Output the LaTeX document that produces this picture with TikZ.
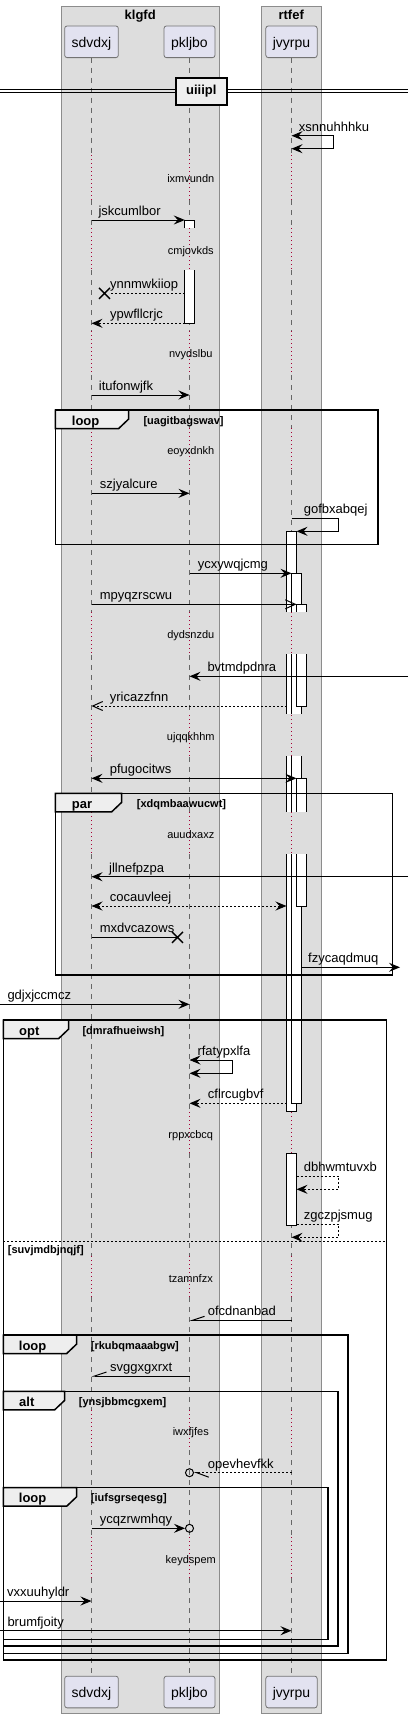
\documentclass[tikz,border=0pt]{standalone}
\usepackage{fontspec}
\setmainfont{Liberation Sans}
\usetikzlibrary{arrows.meta, positioning, calc}

\definecolor{boxgray}{HTML}{DDDDDD}
\definecolor{partfill}{HTML}{E2E2F0}
\definecolor{tabfill}{HTML}{EEEEEE}
\definecolor{delayred}{HTML}{A80036}

\begin{document}
\begin{tikzpicture}[
    x=1pt, y=-1pt,
    >={Stealth[length=11pt,width=9pt,inset=4pt]},
    part/.style={rectangle, rounded corners=2.5pt, draw=black!55, line width=0.8pt, fill=partfill, minimum width=51pt, minimum height=31.7pt, inner xsep=7pt, text height=13pt, text depth=2pt, font=\fontsize{14}{16}\selectfont},
    grp/.style={draw=black!45, line width=0.8pt, fill=boxgray},
    grptitle/.style={font=\bfseries\fontsize{13}{15}\selectfont, inner sep=0pt, anchor=base},
    life/.style={black!60, line width=0.7pt, dash pattern=on 5pt off 5pt},
    delayline/.style={delayred, line width=0.8pt, dash pattern=on 1pt off 3pt},
    delaytxt/.style={font=\fontsize{11}{13}\selectfont, inner sep=0pt, anchor=base},
    actbar/.style={draw=black, line width=0.8pt, fill=white},
    msg/.style={line width=1pt},
    ret/.style={msg, dash pattern=on 2pt off 2pt},
    openhead/.style={-{Straight Barb[length=10pt,width=9pt]}},
    halfup/.style={-{Straight Barb[harpoon,swap,length=12pt,width=8pt]}},
    halfdown/.style={-{Straight Barb[harpoon,length=12pt,width=9pt]}},
    lostx/.style={line width=1.4pt},
    circend/.style={circle, draw, line width=1pt, inner sep=0pt, minimum size=8pt},
    lbl/.style={font=\fontsize{13}{15}\selectfont, inner sep=0pt, anchor=base west},
    fragline/.style={line width=1.5pt},
    fragtab/.style={line width=1.5pt, fill=tabfill},
    fragkind/.style={font=\bfseries\fontsize{13}{15}\selectfont, inner sep=0pt, anchor=base west},
    fragguard/.style={font=\bfseries\fontsize{11}{13}\selectfont, inner sep=0pt, anchor=base west},
    elseline/.style={line width=0.8pt, dash pattern=on 2pt off 2pt},
    divbox/.style={rectangle, draw, line width=2pt, fill=tabfill, minimum width=51.3pt, minimum height=26.7pt, inner sep=0pt, font=\bfseries\fontsize{13}{15}\selectfont}
]
\useasboundingbox (0,0) rectangle (408,1718);

% boxes
\draw[grp] (61,6) rectangle (219.3,1713.3);
\draw[grp] (261,6) rectangle (321.3,1713.3);
\node[grptitle] (klgfd) at (140.2,19.5) {klgfd};
\node[grptitle] (rtfef) at (291.2,19.5) {rtfef};

\node[part] (sd) at (91.5,41.8) {sdvdxj};
\node[part] (pk) at (189.5,41.8) {pkljbo};
\node[part] (jv) at (291.5,41.8) {jvyrpu};

% lifelines
\foreach \ya/\yb in {57.7/155, 200/228, 270/331, 375/428, 470/612, 655/715, 757/812, 854/1112, 1153/1256, 1297/1410, 1450/1537, 1578/1676}
  \foreach \p in {sd,pk,jv}
    \draw[life] (\p |- 0,\ya) -- (\p |- 0,\yb);
\foreach \ya/\yb in {155/200, 228/270, 331/375, 428/470, 612/655, 715/757, 812/854, 1112/1153, 1256/1297, 1410/1450, 1537/1578}
  \foreach \p in {sd,pk,jv}
    \draw[delayline] (\p |- 0,\ya) -- (\p |- 0,\yb);

% delays
\node[delaytxt] (ixmvundn) at (190.8,182) {ixmvundn};
\node[delaytxt] (cmjovkds) at (190.8,254) {cmjovkds};
\node[delaytxt] (nvydslbu) at (190.8,357.3) {nvydslbu};
\node[delaytxt] (eoyxdnkh) at (190.8,454) {eoyxdnkh};
\node[delaytxt] (dydsnzdu) at (190.8,638.3) {dydsnzdu};
\node[delaytxt] (ujqqkhhm) at (190.8,740.7) {ujqqkhhm};
\node[delaytxt] (auudxaxz) at (190.8,838) {auudxaxz};
\node[delaytxt] (rppxcbcq) at (190.8,1138) {rppxcbcq};
\node[delaytxt] (tzamnfzx) at (190.8,1282.3) {tzamnfzx};
\node[delaytxt] (iwxfjfes) at (190.8,1435) {iwxfjfes};
\node[delaytxt] (keydspem) at (190.8,1563.3) {keydspem};

% activations
\filldraw[actbar] (184.8,228) -- (184.8,220) -- (194.8,220) -- (194.8,228);
\filldraw[actbar] (184.8,270) -- (184.8,323.3) -- (194.8,323.3) -- (194.8,270);

\filldraw[actbar] (286.5,612) -- (286.5,531.3) -- (296.5,531.3) -- (296.5,612);
\fill[white] (286.5,654.3) rectangle (296.5,714);
\draw[actbar] (286.5,654.3) -- (286.5,714) (296.5,654.3) -- (296.5,714);
\fill[white] (286.5,756) rectangle (296.5,812);
\draw[actbar] (286.5,756) -- (286.5,812) (296.5,756) -- (296.5,812);
\filldraw[actbar] (286.5,854.3) -- (286.5,1111.7) -- (296.5,1111.7) -- (296.5,854.3);

\filldraw[actbar] (291.5,612) -- (291.5,573.3) -- (301.5,573.3) -- (301.5,612);
\fill[white] (291.5,654.3) rectangle (301.5,714);
\draw[actbar] (291.5,654.3) -- (291.5,714) (301.5,654.3) -- (301.5,714);
\fill[white] (291.5,756) rectangle (301.5,812);
\draw[actbar] (291.5,756) -- (291.5,812) (301.5,756) -- (301.5,812);
\filldraw[actbar] (291.5,854.3) -- (291.5,1103.3) -- (301.5,1103.3) -- (301.5,854.3);

\filldraw[actbar] (296.5,612) -- (296.5,604.3) -- (306.5,604.3) -- (306.5,612);
\filldraw[actbar] (296.5,654.3) -- (296.5,706) -- (306.5,706) -- (306.5,654.3);
\filldraw[actbar] (296.5,812) -- (296.5,778.3) -- (306.5,778.3) -- (306.5,812);
\filldraw[actbar] (296.5,854.3) -- (296.5,906) -- (306.5,906) -- (306.5,854.3);

\filldraw[actbar] (286.5,1153.3) rectangle (296.5,1225);

% fragments
\draw[fragline] (55.3,410) rectangle (378,544.3);
\filldraw[fragtab] (55.3,410) -- (128.7,410) -- (128.7,419) -- (118.7,428.5) -- (55.3,428.5) -- cycle;
\node[fragkind] (loopA) at (71.7,425) {loop};
\node[fragguard] (guardA) at (143.3,424) {[uagitbagswav]};

\draw[fragline] (55.3,793.3) rectangle (392.7,975);
\filldraw[fragtab] (55.3,793.3) -- (121.7,793.3) -- (121.7,802.3) -- (111.7,811.8) -- (55.3,811.8) -- cycle;
\node[fragkind] (parA) at (71.7,808.3) {par};
\node[fragguard] (guardB) at (136.7,807.3) {[xdqmbaawucwt]};

\draw[fragline] (3.3,1020) rectangle (386.7,1660);
\filldraw[fragtab] (3.3,1020) -- (68.7,1020) -- (68.7,1029) -- (58.7,1038.5) -- (3.3,1038.5) -- cycle;
\node[fragkind] (optA) at (19,1035) {opt};
\node[fragguard] (guardC) at (82.3,1034) {[dmrafhueiwsh]};
\draw[elseline] (3.3,1241) -- (386.7,1241);
\node[fragguard] (guardD) at (7.7,1253.5) {[suvjmdbjnqjf]};

\draw[fragline] (3.3,1335) rectangle (348,1653.3);
\filldraw[fragtab] (3.3,1335) -- (76.7,1335) -- (76.7,1344) -- (66.7,1353.5) -- (3.3,1353.5) -- cycle;
\node[fragkind] (loopB) at (18.7,1350) {loop};
\node[fragguard] (guardE) at (90.7,1349) {[rkubqmaaabgw]};

\draw[fragline] (3.3,1391.3) rectangle (338,1646);
\filldraw[fragtab] (3.3,1391.3) -- (64.7,1391.3) -- (64.7,1400.3) -- (54.7,1409.8) -- (3.3,1409.8) -- cycle;
\node[fragkind] (altA) at (19,1406.3) {alt};
\node[fragguard] (guardF) at (78.7,1405.3) {[ynsjbbmcgxem]};

\draw[fragline] (3.3,1487.7) rectangle (328,1639.3);
\filldraw[fragtab] (3.3,1487.7) -- (76.7,1487.7) -- (76.7,1496.7) -- (66.7,1506.2) -- (3.3,1506.2) -- cycle;
\node[fragkind] (loopC) at (18.7,1502.7) {loop};
\node[fragguard] (guardG) at (90.7,1501.7) {[iufsgrseqesg]};

% messages
\coordinate (pkbar) at (184.8,0);
\coordinate (jvleft) at (286.5,0);
\coordinate (jvright) at (296.5,0);
\coordinate (jvright2) at (301.5,0);

\draw[msg,<->] (jv |- 0,135.7) -- ++(41.8,0) -- ++(0,13) -- (jv |- 0,148.7);
\node[lbl] (xsnnuhhhku) at (298.7,131.2) {xsnnuhhhku};

\draw[msg,->] (sd |- 0,220) -- (pkbar |- 0,220);
\node[lbl] (jskcumlbor) at (98.3,215.5) {jskcumlbor};

\coordinate (lostA) at (104.5,293.3);
\draw[ret] (pkbar |- 0,293.3) -- ([xshift=5.5pt]lostA);
\draw[lostx] ([shift={(-5.5,-5.5)}]lostA) -- ([shift={(5.5,5.5)}]lostA) ([shift={(-5.5,5.5)}]lostA) -- ([shift={(5.5,-5.5)}]lostA);
\node[lbl] (ynnmwkiiop) at (110,288.8) {ynnmwkiiop};

\draw[ret,->] (pkbar |- 0,323.3) -- (sd |- 0,323.3);
\node[lbl] (ypwfllcrjc) at (110,318.8) {ypwfllcrjc};

\draw[msg,->] (sd |- 0,395) -- (pk |- 0,395);
\node[lbl] (itufonwjfk) at (98.7,390.5) {itufonwjfk};

\draw[msg,->] (sd |- 0,493.3) -- (pk |- 0,493.3);
\node[lbl] (szjyalcure) at (99.7,488.8) {szjyalcure};

\draw[msg,->] (jv |- 0,518.3) -- ++(47.2,0) -- ++(0,13) -- (jvright |- 0,531.3);
\node[lbl] (gofbxabqej) at (303.7,513.8) {gofbxabqej};

\draw[msg,->] (pk |- 0,573.3) -- (jv |- 0,573.3);
\node[lbl] (ycxywqjcmg) at (197.7,568.8) {ycxywqjcmg};

\draw[msg,openhead] (sd |- 0,604.3) -- (jvright |- 0,604.3);
\node[lbl] (mpyqzrscwu) at (99.7,599.8) {mpyqzrscwu};

\coordinate (rightA) at (408,676.3);
\draw[msg,->] (rightA) -- (pk |- 0,676.3);
\node[lbl] (bvtmdpdnra) at (207.3,671.8) {bvtmdpdnra};

\draw[ret,openhead] (jvleft |- 0,706) -- (sd |- 0,706);
\node[lbl] (yricazzfnn) at (109.7,701.5) {yricazzfnn};

\draw[msg,<->] (sd |- 0,778.3) -- (jvright |- 0,778.3);
\node[lbl] (pfugocitws) at (109.7,773.8) {pfugocitws};

\coordinate (rightB) at (408,876.7);
\draw[msg,->] (rightB) -- (sd |- 0,876.7);
\node[lbl] (jllnefpzpa) at (109,872.2) {jllnefpzpa};

\draw[ret,<->] (sd |- 0,906) -- (jvleft |- 0,906);
\node[lbl] (cocauvleej) at (109.7,901.5) {cocauvleej};

\coordinate (lostB) at (177.5,937.3);
\draw[msg] (sd |- 0,937.3) -- (lostB);
\draw[lostx] ([shift={(-5.5,-5.5)}]lostB) -- ([shift={(5.5,5.5)}]lostB) ([shift={(-5.5,5.5)}]lostB) -- ([shift={(5.5,-5.5)}]lostB);
\node[lbl] (mxdvcazows) at (99.7,932.8) {mxdvcazows};

\coordinate (rightC) at (400,967.3);
\draw[msg,->] (jvright2 |- 0,967.3) -- (rightC);
\node[lbl] (fzycaqdmuq) at (308,962.8) {fzycaqdmuq};

\coordinate (leftA) at (0,1004.3);
\draw[msg,->] (leftA) -- (pk |- 0,1004.3);
\node[lbl] (gdjxjccmcz) at (7.3,999.8) {gdjxjccmcz};

\draw[msg,<->] (pk |- 0,1060) -- ++(43.2,0) -- ++(0,13.3) -- (pk |- 0,1073.3);
\node[lbl] (rfatypxlfa) at (197.3,1055.5) {rfatypxlfa};

\draw[ret,->] (jvleft |- 0,1103.3) -- (pk |- 0,1103.3);
\node[lbl] (cflrcugbvf) at (207.7,1098.8) {cflrcugbvf};

\draw[ret,->] (jvright |- 0,1176) -- ++(42.2,0) -- ++(0,13.3) -- (jvright |- 0,1189.3);
\node[lbl] (dbhwmtuvxb) at (303.7,1171.5) {dbhwmtuvxb};

\draw[ret,->] (jvright |- 0,1224.3) -- ++(42.2,0) -- ++(0,13) -- (jv |- 0,1237.3);
\node[lbl] (zgczpjsmug) at (303.7,1219.8) {zgczpjsmug};

\draw[msg,halfup] (jv |- 0,1320.3) -- (pk |- 0,1320.3);
\node[lbl] (ofcdnanbad) at (207.7,1315.8) {ofcdnanbad};

\draw[msg,halfup] (pk |- 0,1376) -- (sd |- 0,1376);
\node[lbl] (svggxgxrxt) at (110,1371.5) {svggxgxrxt};

\node[circend] (circA) at (pk |- 0,1472.7) {};
\draw[ret,halfdown] (jv |- 0,1472.7) -- (circA.east);
\node[lbl] (opevhevfkk) at (207.7,1468.2) {opevhevfkk};

\node[circend] (circB) at (pk |- 0,1528.3) {};
\draw[msg,->] (sd |- 0,1528.3) -- (circB.west);
\node[lbl] (ycqzrwmhqy) at (99.7,1523.8) {ycqzrwmhqy};

\coordinate (leftB) at (0,1601);
\draw[msg,->] (leftB) -- (sd |- 0,1601);
\node[lbl] (vxxuuhyldr) at (7,1596.5) {vxxuuhyldr};

\coordinate (leftC) at (0,1630.7);
\draw[msg,->] (leftC) -- (jv |- 0,1630.7);
\node[lbl] (brumfjoity) at (7.3,1626.2) {brumfjoity};

% divider
\draw[line width=1pt] (0,89.3) -- (408,89.3) (0,92.7) -- (408,92.7);
\node[divbox] (uiiipl) at (201.3,91.3) {uiiipl};

\node[part] (sdB) at (91.5,1692) {sdvdxj};
\node[part] (pkB) at (189.5,1692) {pkljbo};
\node[part] (jvB) at (291.5,1692) {jvyrpu};

\end{tikzpicture}
\end{document}
